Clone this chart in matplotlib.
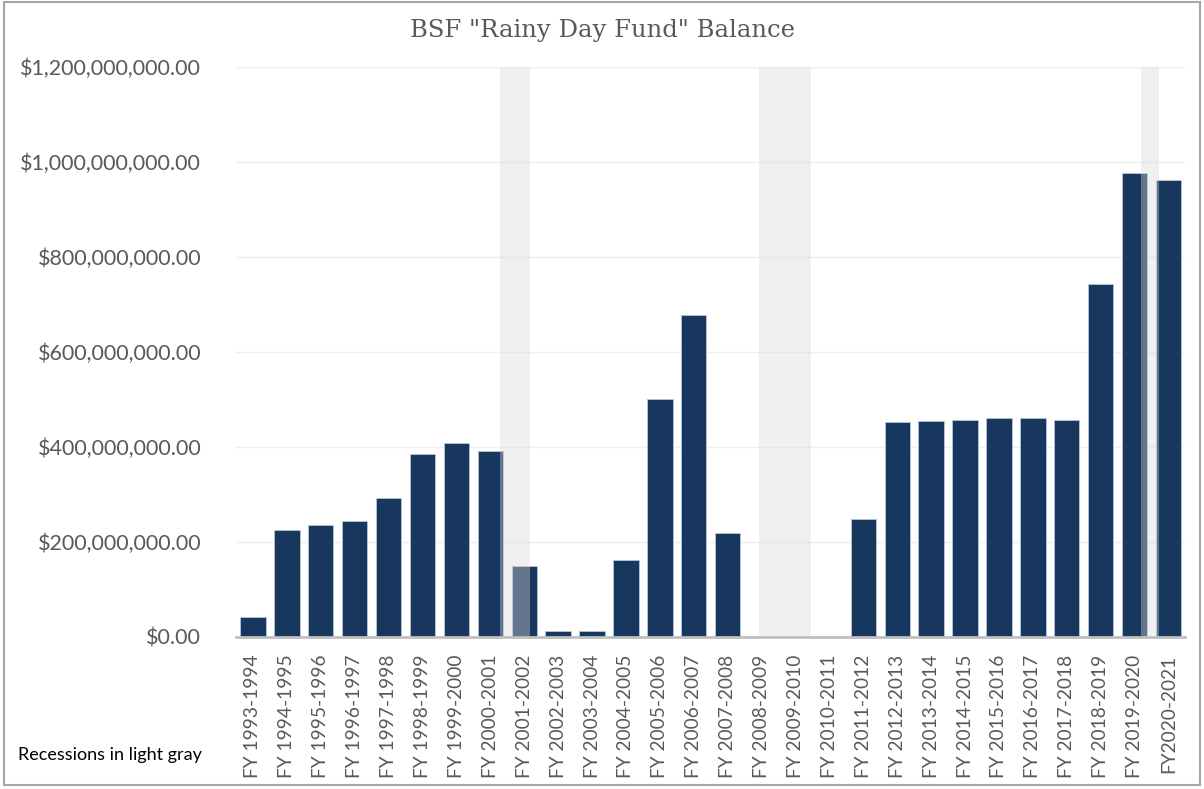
import matplotlib.pyplot as plt
import matplotlib.ticker as mticker
from matplotlib.patches import Rectangle

# ------------------------------------------------------------
# Data (in millions of dollars)
# ------------------------------------------------------------
years = ["FY 1993-1994", "FY 1994-1995", "FY 1995-1996", "FY 1996-1997", "FY 1997-1998",
         "FY 1998-1999", "FY 1999-2000", "FY 2000-2001", "FY 2001-2002", "FY 2002-2003",
         "FY 2003-2004", "FY 2004-2005", "FY 2005-2006", "FY 2006-2007", "FY 2007-2008",
         "FY 2008-2009", "FY 2009-2010", "FY 2010-2011", "FY 2011-2012", "FY 2012-2013",
         "FY 2013-2014", "FY 2014-2015", "FY 2015-2016", "FY 2016-2017", "FY 2017-2018",
         "FY 2018-2019", "FY 2019-2020", "FY2020-2021"]
balance_m = [41, 225, 235, 244, 292, 385, 408, 392, 148, 12,
             12, 161, 501, 677, 218, 0, 0, 0, 249, 453,
             455, 457, 460, 460, 457, 742, 977, 963]

# recession periods, in category positions
rec_start = [7.28, 14.92, 26.20]
rec_end = [8.16, 16.47, 26.71]

navy = "#17375E"
txt = "#595959"
font = ["Lato", "DejaVu Sans"]

fig = plt.figure(figsize=(12.04, 7.89), dpi=100)
ax = fig.add_axes([0.196, 0.193, 0.7886, 0.722])

x = list(range(len(years)))
vals = [v * 1e6 for v in balance_m]
ax.bar(x, vals, width=0.75, color=navy, edgecolor="#B9C6D8", linewidth=0.6, zorder=2)

for s, e in zip(rec_start, rec_end):
    ax.axvspan(s, e, ymin=0, ymax=1, color="#D9D9D9", alpha=0.39, lw=0, zorder=3)

ax.set_xlim(-0.5, len(years) - 0.5)
ax.set_ylim(0, 1.2e9)
ax.yaxis.set_major_locator(mticker.MultipleLocator(2e8))
ax.yaxis.set_major_formatter(mticker.FuncFormatter(lambda v, p: f"${v:,.2f}"))
ax.grid(axis="y", color="#EFEFEF", lw=1, zorder=0)
ax.set_axisbelow(True)

for side in ["top", "right", "left"]:
    ax.spines[side].set_visible(False)
ax.spines["bottom"].set_color("#BFBFBF")
ax.spines["bottom"].set_linewidth(2)
ax.spines["bottom"].set_zorder(4)

ax.set_xticks(x)
ax.set_xticklabels(years, rotation=90, fontsize=13.8, color=txt, family=font)
ax.tick_params(axis="x", length=0, pad=13)
ax.tick_params(axis="y", length=0, pad=25, labelsize=15.5, labelcolor=txt)
for lab in ax.get_yticklabels():
    lab.set_family(font)

fig.text(0.5, 0.961, 'BSF "Rainy Day Fund" Balance', ha="center", va="center",
         fontsize=17.5, color=txt, family="DejaVu Serif")
fig.text(0.015, 0.043, "Recessions in light gray", ha="left", va="center",
         fontsize=13, color="black", family=font)

fig.patches.append(Rectangle((0.003, 0.005), 0.994, 0.993, transform=fig.transFigure,
                             fill=False, edgecolor="#A6A6A6", lw=1.5))

fig.savefig("out.png", dpi=100)
